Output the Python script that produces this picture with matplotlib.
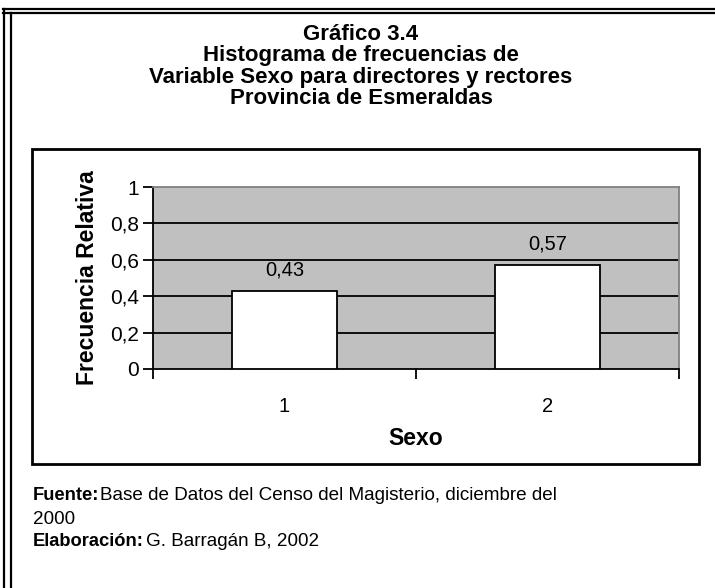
import matplotlib
matplotlib.use("Agg")
import matplotlib.pyplot as plt
from matplotlib.patches import Rectangle
from matplotlib.lines import Line2D

categories = ["1", "2"]
values = [0.43, 0.57]
value_labels = ["0,43", "0,57"]
yticks = [0, 0.2, 0.4, 0.6, 0.8, 1.0]
ytick_labels = ["0", "0,2", "0,4", "0,6", "0,8", "1"]

plt.rcParams['font.family'] = ['Liberation Sans', 'DejaVu Sans']

W, H = 715, 588
fig = plt.figure(figsize=(W / 100, H / 100), dpi=100)
fig.patch.set_facecolor("white")

def fx(x):
    return x / W

def fy(y):
    return 1 - y / H

# outer double frame (top and left)
for yy in (9, 13):
    fig.add_artist(Line2D([fx(3), 1], [fy(yy), fy(yy)], color="black", lw=1.6,
                          transform=fig.transFigure))
for xx in (4, 11):
    fig.add_artist(Line2D([fx(xx), fx(xx)], [fy(9 if xx == 4 else 13), 0], color="black", lw=1.6,
                          transform=fig.transFigure))

# inner chart box
fig.add_artist(Rectangle((fx(32), fy(464)), fx(699) - fx(32), fy(149) - fy(464),
                         fill=False, edgecolor="black", lw=2, transform=fig.transFigure))

# titles
titles = ["Gráfico 3.4", "Histograma de frecuencias de",
          "Variable Sexo para directores y rectores", "Provincia de Esmeraldas"]
for i, t in enumerate(titles):
    fig.text(fx(361), fy(34 + i * 21.5), t, ha="center", va="center",
             fontsize=16, fontweight="bold")

# axes
ax = fig.add_axes([fx(153), fy(369), fx(679) - fx(153), fy(187) - fy(369)])
ax.set_facecolor("#c0c0c0")
x = list(range(len(categories)))
ax.bar(x, values, width=0.4, color="white", edgecolor="black", lw=1.3, zorder=3)
ax.set_xlim(-0.5, len(categories) - 0.5)
ax.set_ylim(0, 1)
ax.set_yticks(yticks)
ax.set_yticklabels(ytick_labels, fontsize=15)
for yv in yticks[1:-1]:
    ax.axhline(yv, color="black", lw=1.3, zorder=1)
for i, (v, lab) in enumerate(zip(values, value_labels)):
    ax.text(i, v + 0.115, lab, ha="center", va="center", fontsize=14.5)

ax.set_xticks([i - 0.5 for i in range(len(categories) + 1)])
ax.set_xticklabels([])
ax.set_xticks(x, minor=True)
ax.set_xticklabels(categories, minor=True, fontsize=14.5)
ax.tick_params(axis="x", which="minor", length=0, pad=20.5)
ax.tick_params(axis="x", which="major", length=7, width=1.3, direction="out")
ax.tick_params(axis="y", length=7, width=1.3, direction="out", pad=3)

for s in ("top", "right"):
    ax.spines[s].set_color("#808080")
    ax.spines[s].set_linewidth(1.3)
for s in ("left", "bottom"):
    ax.spines[s].set_color("black")
    ax.spines[s].set_linewidth(1.3)

ax.set_xlabel("Sexo", fontsize=16.5, fontweight="bold", labelpad=7.5)
ax.set_ylabel("Frecuencia Relativa", fontsize=16.5, fontweight="bold", labelpad=8)

# source notes
fs = 13.6
fig.text(fx(33), fy(496), "Fuente:", fontsize=13.2, fontweight="bold", va="center")
fig.text(fx(100), fy(496), "Base de Datos del Censo del Magisterio, diciembre del",
         fontsize=fs, va="center")
fig.text(fx(33), fy(519), "2000", fontsize=fs, va="center")
fig.text(fx(33), fy(542), "Elaboración:", fontsize=13.2, fontweight="bold", va="center")
fig.text(fx(146), fy(542), "G. Barragán B, 2002", fontsize=fs, va="center")

fig.savefig("out.png", dpi=100, facecolor="white")
